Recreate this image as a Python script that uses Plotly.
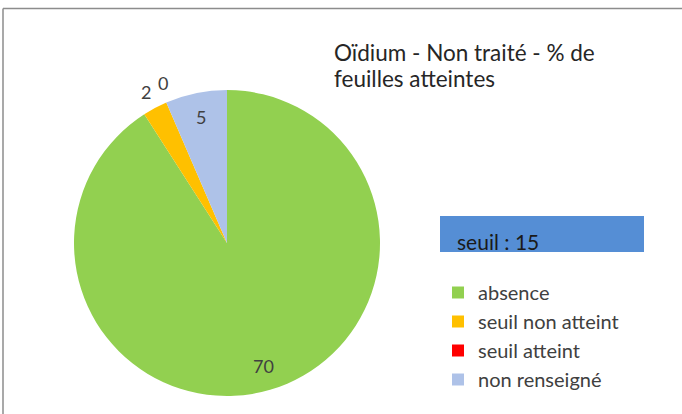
import math
import plotly.graph_objects as go

categories = ["absence", "seuil non atteint", "seuil atteint", "non renseigné"]
values = [70, 2, 0, 5]
colors = ["#92D050", "#FFC000", "#FF0000", "#AEC2E8"]
label_inside = [True, False, False, True]
title_lines = ["Oïdium - Non traité - % de", "feuilles atteintes"]
seuil_text = "seuil : 15"

W, H = 682, 414
FONT = "Lato"
TXT = "#404040"

# pie domain (paper fractions)
dom_x = [74 / W, 380 / W]
dom_y = [18 / H, 324 / H]

# small pixel nudges for label readability (style only)
label_nudge = {2: (6, 1.5)}

fig = go.Figure()
fig.add_trace(go.Pie(
    labels=categories,
    values=values,
    marker=dict(colors=colors, line=dict(width=0)),
    sort=False,
    direction="clockwise",
    rotation=0,
    textinfo="none",
    domain=dict(x=dom_x, y=dom_y),
    showlegend=True,
    hoverinfo="label+value",
))

# data labels placed from the slice angles
cx_px = (dom_x[0] + dom_x[1]) / 2 * W
cy_px = (dom_y[0] + dom_y[1]) / 2 * H
R_px = min((dom_x[1] - dom_x[0]) * W, (dom_y[1] - dom_y[0]) * H) / 2
total = sum(values)
annotations = []
cum = 0.0
for i, (v, inside) in enumerate(zip(values, label_inside)):
    mid = (cum + v / 2) / total * 2 * math.pi
    cum += v
    rf = 0.84 if inside else (1.12 if v > 0 else 1.15)
    nx, ny = label_nudge.get(i, (0, 0))
    px = cx_px + rf * R_px * math.sin(mid) + nx
    py = cy_px + rf * R_px * math.cos(mid) - ny
    annotations.append(dict(
        text=str(v), xref="paper", yref="paper",
        x=px / W, y=py / H, xanchor="center", yanchor="middle",
        showarrow=False, font=dict(family=FONT, size=18, color=TXT)))

for i, line in enumerate(title_lines):
    annotations.append(dict(
        text=line, xref="paper", yref="paper",
        x=332 / W, y=1 - (52 + 27 * i) / H, xanchor="left", yanchor="middle",
        align="left", showarrow=False,
        font=dict(family=FONT, size=22.5, color="#262626")))

annotations.append(dict(
    text=seuil_text, xref="paper", yref="paper",
    x=455 / W, y=1 - 241 / H, xanchor="left", yanchor="middle",
    showarrow=False,
    font=dict(family=FONT, size=21, color="#1A1A1A")))

fig.update_layout(
    width=W, height=H,
    margin=dict(l=0, r=0, t=0, b=0),
    paper_bgcolor="white",
    plot_bgcolor="white",
    font=dict(family=FONT, color=TXT),
    legend=dict(
        x=438 / W, y=1 - 273 / H, xanchor="left", yanchor="top",
        font=dict(family=FONT, size=20, color=TXT),
        bgcolor="rgba(0,0,0,0)",
        itemclick=False, itemdoubleclick=False,
    ),
    shapes=[
        dict(type="rect", xref="paper", yref="paper",
             x0=440 / W, x1=644 / W, y0=1 - 252 / H, y1=1 - 216 / H,
             fillcolor="#558ED5", line=dict(width=0), layer="below"),
        dict(type="line", xref="paper", yref="paper",
             x0=3 / W, x1=1, y0=1 - 8.5 / H, y1=1 - 8.5 / H,
             line=dict(color="#8C8C8C", width=1.5)),
        dict(type="line", xref="paper", yref="paper",
             x0=3 / W, x1=3 / W, y0=0, y1=1 - 8.5 / H,
             line=dict(color="#8C8C8C", width=1.5)),
    ],
    annotations=annotations,
)

fig.write_html("out.html", config={"displayModeBar": False},
               post_script="document.body.style.margin='0';")
